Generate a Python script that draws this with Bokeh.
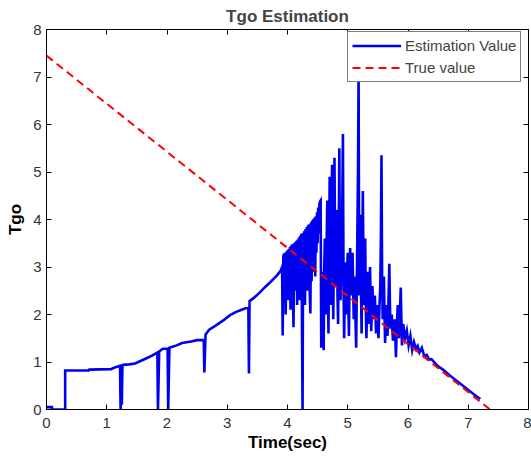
from bokeh.plotting import figure
from bokeh.models import LinearAxis, FixedTicker, Legend, LegendItem, Range1d
from bokeh.embed import file_html
from bokeh.resources import INLINE

# ---- data: estimation value ----
# smooth part with drop-outs, 0 - 3.91 s
early_t = [0.0, 0.09, 0.09, 0.31, 0.31, 0.70, 0.71, 1.07, 1.12, 1.22, 1.23, 1.24, 1.25, 1.26,
           1.27, 1.37, 1.47, 1.56, 1.66, 1.76, 1.84, 1.85, 1.87, 1.93, 2.01, 2.02, 2.04, 2.16,
           2.25, 2.40, 2.50, 2.61, 2.62, 2.64, 2.70, 2.80, 2.94, 3.04, 3.14, 3.24, 3.35, 3.36,
           3.37, 3.44, 3.53, 3.63, 3.73, 3.83, 3.89, 3.91]
early_y = [0.05, 0.05, 0.0, 0.0, 0.82, 0.82, 0.84, 0.85, 0.88, 0.92, 0.0, 0.93, 0.1, 0.93,
           0.94, 0.95, 0.97, 1.02, 1.08, 1.14, 1.2, 0.0, 1.22, 1.28, 1.28, 0.0, 1.3, 1.35,
           1.4, 1.43, 1.46, 1.46, 0.78, 1.58, 1.68, 1.76, 1.88, 1.98, 2.05, 2.1, 2.15, 0.76,
           2.28, 2.35, 2.45, 2.58, 2.7, 2.83, 2.93, 3.0]

# rising noisy band, 3.92 - 4.55 s
band_t = [3.92, 3.93, 3.94, 3.95, 3.96, 3.97, 3.98, 3.99, 4.00, 4.01, 4.02, 4.03, 4.04, 4.05,
          4.06, 4.07, 4.08, 4.09, 4.10, 4.11, 4.12, 4.13, 4.14, 4.15, 4.16, 4.17, 4.18, 4.19,
          4.20, 4.21, 4.22, 4.23, 4.24, 4.25, 4.26, 4.27, 4.28, 4.29, 4.30, 4.31, 4.32, 4.33,
          4.34, 4.35, 4.36, 4.37, 4.38, 4.39, 4.40, 4.41, 4.42, 4.43, 4.44, 4.45, 4.46, 4.47,
          4.48, 4.49, 4.50, 4.51, 4.52, 4.53, 4.54, 4.55]
band_y = [1.56, 3.2, 3.28, 2.4, 3.3, 2.0, 3.32, 2.6, 3.35, 2.3, 3.38, 2.8, 3.42, 2.1,
          3.45, 2.6, 3.48, 2.4, 1.73, 3.5, 2.5, 3.52, 2.8, 3.55, 2.2, 3.58, 2.7, 3.62,
          2.3, 3.66, 2.9, 3.7, 1.9, 0.0, 3.72, 2.6, 3.76, 2.2, 3.8, 2.8, 3.84, 2.5,
          3.88, 3.0, 3.9, 2.4, 2.02, 3.94, 2.7, 3.98, 2.9, 4.01, 3.1, 4.04, 2.8, 4.07,
          3.3, 4.15, 3.5, 4.25, 3.7, 4.33, 4.38, 4.4]

# large spikes, 4.56 - 5.92 s
spike_t = [4.56, 4.57, 4.58, 4.59, 4.60, 4.61, 4.62, 4.63, 4.64, 4.65, 4.66, 4.67, 4.68, 4.69,
           4.70, 4.71, 4.72, 4.73, 4.74, 4.75, 4.76, 4.77, 4.78, 4.79, 4.80, 4.81, 4.82, 4.83,
           4.84, 4.85, 4.86, 4.87, 4.88, 4.89, 4.90, 4.91, 4.92, 4.93, 4.94, 4.95, 4.96, 4.97,
           4.98, 4.99, 5.00, 5.01, 5.02, 5.03, 5.04, 5.05, 5.06, 5.07, 5.08, 5.09, 5.10, 5.11,
           5.12, 5.13, 5.14, 5.15, 5.16, 5.17, 5.18, 5.19, 5.20, 5.21, 5.22, 5.23, 5.24, 5.25,
           5.26, 5.27, 5.28, 5.29, 5.30, 5.31, 5.32, 5.33, 5.34, 5.35, 5.36, 5.37, 5.38, 5.39,
           5.40, 5.41, 5.42, 5.43, 5.44, 5.45, 5.46, 5.47, 5.48, 5.49, 5.50, 5.51, 5.52, 5.53,
           5.54, 5.55, 5.56, 5.57, 5.58, 5.59, 5.60, 5.61, 5.62, 5.63, 5.64, 5.65, 5.66, 5.67,
           5.68, 5.69, 5.70, 5.71, 5.72, 5.73, 5.74, 5.75, 5.76, 5.77, 5.78, 5.79, 5.80, 5.81,
           5.82, 5.83, 5.84, 5.85, 5.86, 5.87, 5.88, 5.89, 5.90, 5.91, 5.92]
spike_y = [1.3, 2.5, 2.9, 2.0, 1.25, 3.0, 3.6, 2.4, 2.0, 3.5, 4.4, 2.6, 1.6, 3.2,
           4.9, 3.0, 2.2, 3.8, 5.15, 2.8, 1.9, 3.5, 5.3, 3.3, 2.6, 3.9, 4.2, 2.4,
           1.8, 3.6, 5.5, 3.0, 2.3, 2.9, 3.3, 4.4, 5.8, 2.6, 1.5, 2.4, 3.1, 2.6,
           2.0, 2.9, 3.3, 2.2, 1.55, 2.8, 3.4, 2.9, 2.4, 3.0, 3.3, 2.5, 1.9, 2.4,
           2.8, 1.8, 1.3, 2.5, 3.8, 5.0, 7.1, 2.4, 3.2, 4.1, 2.5, 1.6, 3.0, 4.6,
           3.2, 2.2, 2.9, 3.6, 2.1, 1.5, 2.2, 2.9, 2.3, 1.8, 2.5, 3.0, 2.2, 1.65,
           2.1, 2.6, 2.2, 1.9, 2.2, 2.4, 2.0, 1.6, 1.9, 2.2, 1.8, 1.5, 1.9, 2.3,
           2.6, 3.6, 5.35, 2.8, 1.9, 2.3, 2.8, 2.0, 1.4, 1.8, 2.2, 1.9, 1.55, 2.0,
           2.5, 3.07, 2.2, 1.7, 1.85, 2.0, 1.7, 1.45, 1.6, 1.75, 1.9, 1.5, 1.1, 1.6,
           1.9, 2.2, 1.8, 1.5, 1.8, 2.2, 2.57, 1.9, 1.35, 1.6, 1.8]

# converging tail, 5.95 - 7.20 s
tail_t = [5.95, 5.98, 6.01, 6.04, 6.07, 6.10, 6.13, 6.16, 6.19, 6.23, 6.27, 6.31, 6.35, 6.39,
          6.49, 6.59, 6.69, 6.79, 6.88, 6.98, 7.08, 7.20]
tail_y = [1.5, 1.66, 1.35, 1.55, 1.25, 1.42, 1.28, 1.34, 1.2, 1.3, 1.12, 1.15, 1.05, 1.06,
          0.92, 0.83, 0.72, 0.62, 0.53, 0.43, 0.33, 0.22]

est_t = early_t + band_t + spike_t + tail_t
est_y = early_y + band_y + spike_y + tail_y

# ---- data: true value ----
true_t = [0.0, 7.36]
true_y = [7.45, 0.0]

x_ticks = [0, 1, 2, 3, 4, 5, 6, 7, 8]
y_ticks = [0, 1, 2, 3, 4, 5, 6, 7, 8]

FONT = "Liberation Sans"

p = figure(width=531, height=457, output_backend="svg", toolbar_location=None,
           x_range=Range1d(0, 8), y_range=Range1d(0, 8),
           min_border_left=46, min_border_right=3, min_border_top=0, min_border_bottom=48,
           background_fill_color="white", border_fill_color="white")

p.title.text = "Tgo Estimation"
p.title.align = "center"
p.title.text_font = FONT
p.title.text_font_size = "17px"
p.title.text_font_style = "bold"
p.title.offset = -6
p.title.standoff = 8

p.xgrid.visible = False
p.ygrid.visible = False
p.outline_line_color = "black"
p.outline_line_width = 1

for ax, ticks in ((p.xaxis[0], x_ticks), (p.yaxis[0], y_ticks)):
    ax.ticker = FixedTicker(ticks=ticks)
    ax.major_tick_in = 5
    ax.major_tick_out = 0
    ax.minor_tick_line_color = None
    ax.axis_line_color = "black"
    ax.major_tick_line_color = "black"
    ax.major_label_text_font = FONT
    ax.major_label_text_font_size = "15px"
    ax.major_label_text_color = "#333333"
    ax.axis_label_text_font = FONT
    ax.axis_label_text_font_size = "17px"
    ax.axis_label_text_font_style = "bold"
    ax.axis_label_text_color = "black"

p.xaxis.axis_label = "Time(sec)"
p.yaxis.axis_label = "Tgo"
p.xaxis.major_label_standoff = 8
p.xaxis.axis_label_standoff = 2
p.yaxis.major_label_standoff = 5
p.yaxis.axis_label_standoff = 5

top_ax = LinearAxis(ticker=FixedTicker(ticks=x_ticks), major_tick_in=5, major_tick_out=0,
                    minor_tick_line_color=None, major_label_standoff=0,
                    major_label_overrides={t: "" for t in x_ticks})
right_ax = LinearAxis(ticker=FixedTicker(ticks=y_ticks), major_tick_in=5, major_tick_out=0,
                      minor_tick_line_color=None, major_label_standoff=0,
                      major_label_overrides={t: "" for t in y_ticks})
p.add_layout(top_ax, "above")
p.add_layout(right_ax, "right")

r_est = p.line(est_t, est_y, line_color="#0000f0", line_width=2.6, line_join="miter")
r_true = p.line(true_t, true_y, line_color="#ff0000", line_width=2, line_dash="8 5")

legend = Legend(items=[LegendItem(label="Estimation Value", renderers=[r_est]),
                       LegendItem(label="True value", renderers=[r_true])],
                location=(301, 327), orientation="vertical")
legend.label_text_font = FONT
legend.label_text_font_size = "15px"
legend.glyph_width = 49
legend.glyph_height = 19
legend.label_height = 19
legend.label_standoff = 4
legend.padding = 4
legend.spacing = 3
legend.margin = 0
legend.border_line_color = "black"
legend.border_line_width = 1
legend.background_fill_alpha = 1.0
p.add_layout(legend, "center")

open("out.html", "w").write(file_html(p, INLINE))
